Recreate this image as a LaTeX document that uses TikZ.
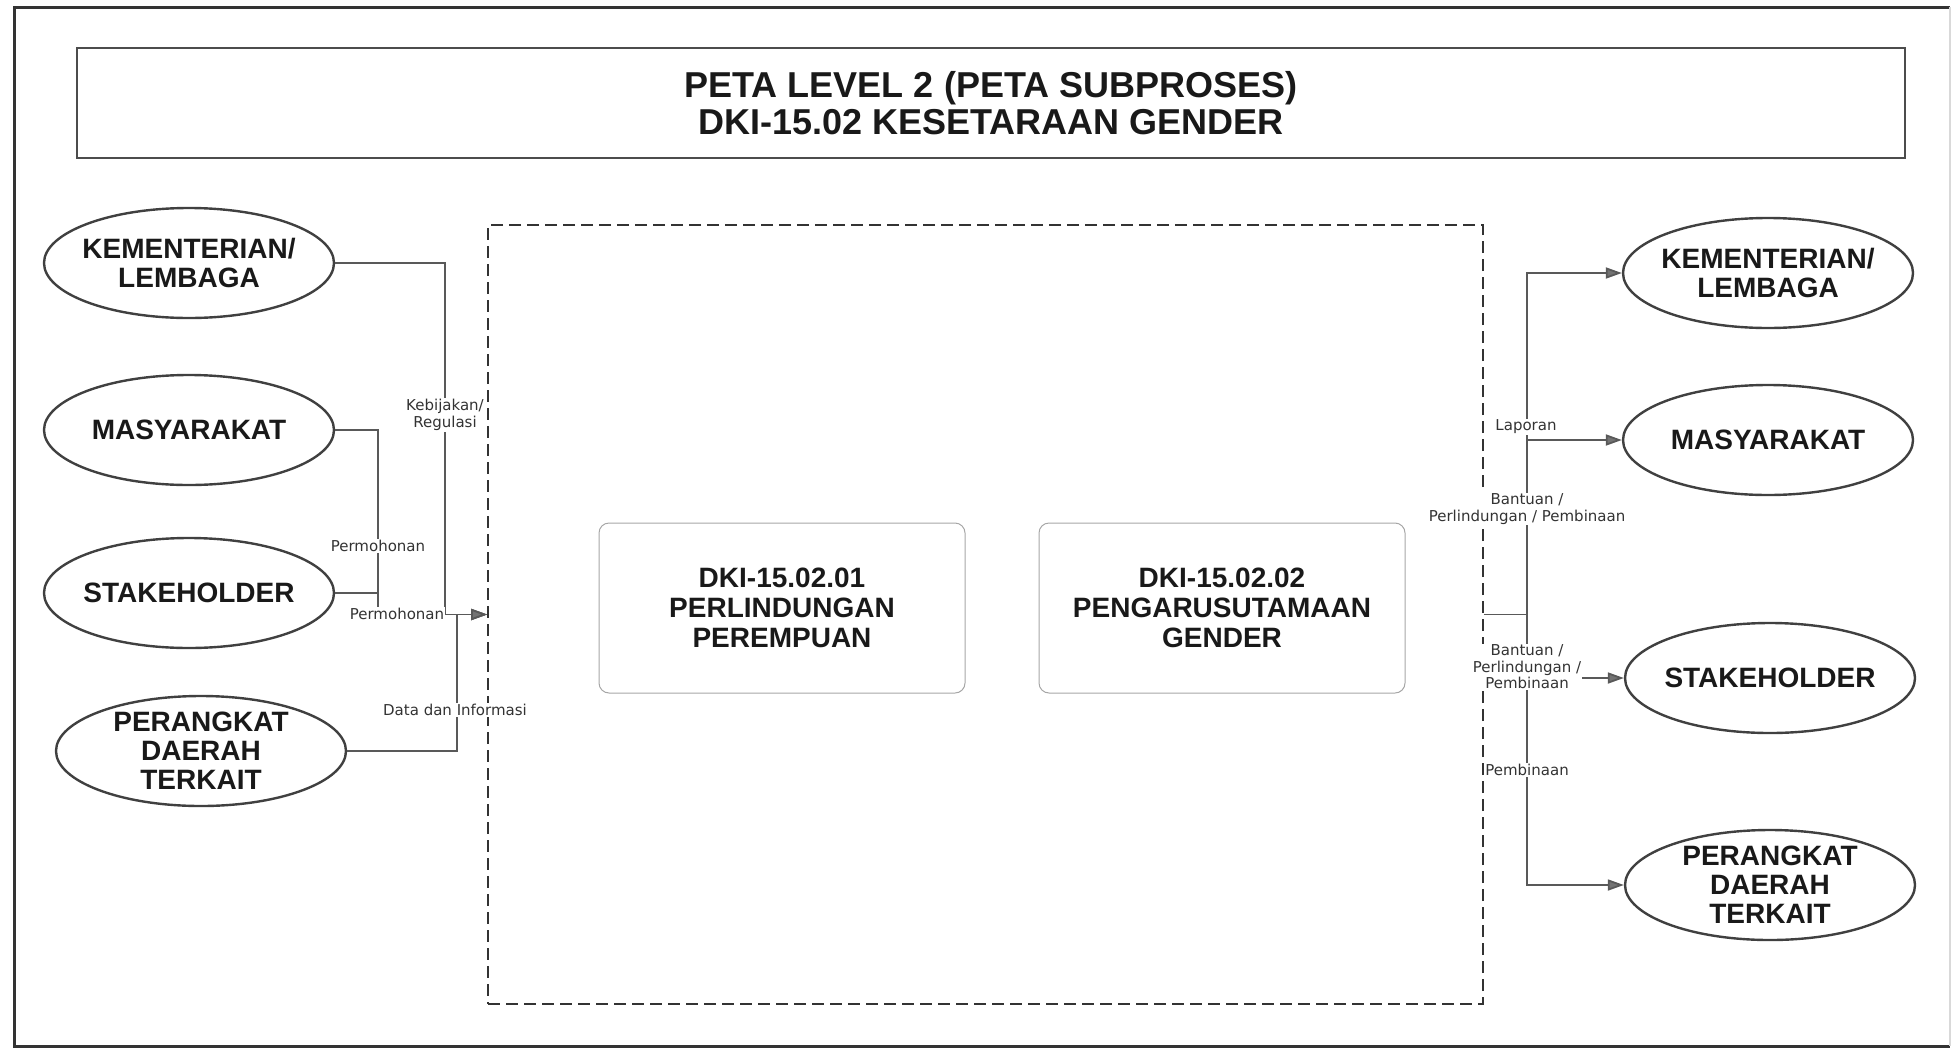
\documentclass[tikz,border=0pt]{standalone}
\usepackage{fontspec}
\setmainfont{Liberation Sans}
\newfontfamily\lblfont{DejaVu Sans}
\usetikzlibrary{arrows.meta,shapes.geometric}

\begin{document}
\begin{tikzpicture}[x=0.5pt,y=-0.5pt,
		party/.style={ellipse,draw=black!75,line width=1.2pt,minimum width=145pt,minimum height=55pt,inner sep=0pt},
		partytext/.style={align=center,font=\bfseries\fontsize{14}{14.5}\selectfont,text=black!90},
		subproc/.style={rectangle,rounded corners=5pt,draw=black!35,line width=0.5pt,minimum width=183pt,minimum height=85pt,align=center,font=\bfseries\fontsize{14}{15}\selectfont,text=black!90},
		flow/.style={draw=black!65,line width=0.9pt},
		arr/.style={flow,-{Triangle[length=8pt,width=5.5pt,fill=black!55]}},
		lbl/.style={fill=white,inner sep=0.5pt,align=center,font=\lblfont\fontsize{7.5}{8.25}\selectfont,text=black!80}]
			\useasboundingbox (0,0) rectangle (1952,1049);
			\draw[black!80,line width=1.5pt] (1950,7) -- (14,7) -- (14,1046) -- (1950,1046);
			\draw[black!15,line width=0.6pt] (1950,7) -- (1950,1046);
			\node[draw=black!70,line width=1pt,minimum width=914pt,minimum height=55pt,align=center,font=\bfseries\fontsize{18}{18.5}\selectfont,text=black!90] (title) at (991,103) {PETA LEVEL 2 (PETA SUBPROSES)\\DKI-15.02 KESETARAAN GENDER};
			\node[draw=black!80,dash pattern=on 6pt off 3pt,line width=0.9pt,minimum width=497.5pt,minimum height=389.5pt] (sub) at (985.5,614.5) {};
			\node[subproc] (sp1) at (782,608) {DKI-15.02.01\\PERLINDUNGAN\\PEREMPUAN};
			\node[subproc] (sp2) at (1222,608) {DKI-15.02.02\\PENGARUSUTAMAAN\\GENDER};
			\node[party,label={[partytext]center:KEMENTERIAN/\\LEMBAGA}] (klL) at (189,263) {};
			\node[party,label={[partytext]center:MASYARAKAT}] (maL) at (189,430) {};
			\node[party,label={[partytext]center:STAKEHOLDER}] (stL) at (189,593) {};
			\node[party,label={[partytext]center:PERANGKAT\\DAERAH\\TERKAIT}] (peL) at (201,751) {};
			\node[party,label={[partytext]center:KEMENTERIAN/\\LEMBAGA}] (klR) at (1768,273) {};
			\node[party,label={[partytext]center:MASYARAKAT}] (maR) at (1768,440) {};
			\node[party,label={[partytext]center:STAKEHOLDER}] (stR) at (1770,678) {};
			\node[party,label={[partytext]center:PERANGKAT\\DAERAH\\TERKAIT}] (peR) at (1770,885) {};
			\coordinate (jKeb) at (445,614.5);
			\coordinate (jMohon) at (378,614.5);
			\coordinate (jData) at (457,614.5);
			\coordinate (jOut) at (1527,614.5);
			\draw[arr] (klL.east) -| (jKeb) -- (sub.west);
			\draw[arr] (maL.east) -| (jMohon) -- (sub.west);
			\draw[flow] (stL.east) -- (stL.east -| jMohon);
			\draw[arr] (peL.east) -| (jData) -- (sub.west);
			\draw[flow] (sub.east) -- (jOut);
			\foreach \t in {klR,maR,stR,peR}
				\draw[arr] (jOut) |- (\t.west);
			\node[lbl] (lKeb) at (445,415) {Kebijakan/\\Regulasi};
			\node[lbl] (lMohon1) at (378,546) {Permohonan};
			\node[lbl] (lMohon2) at (397,614) {Permohonan};
			\node[lbl] (lData) at (455,710) {Data dan Informasi};
			\node[lbl] (lLap) at (1526,427) {Laporan};
			\node[lbl] (lBantu1) at (1527,509) {Bantuan /\\Perlindungan / Pembinaan};
			\node[lbl] (lBantu2) at (1527,667) {Bantuan /\\Perlindungan /\\Pembinaan};
			\node[lbl] (lBina) at (1527,770) {Pembinaan};
		\end{tikzpicture}
\end{document}
